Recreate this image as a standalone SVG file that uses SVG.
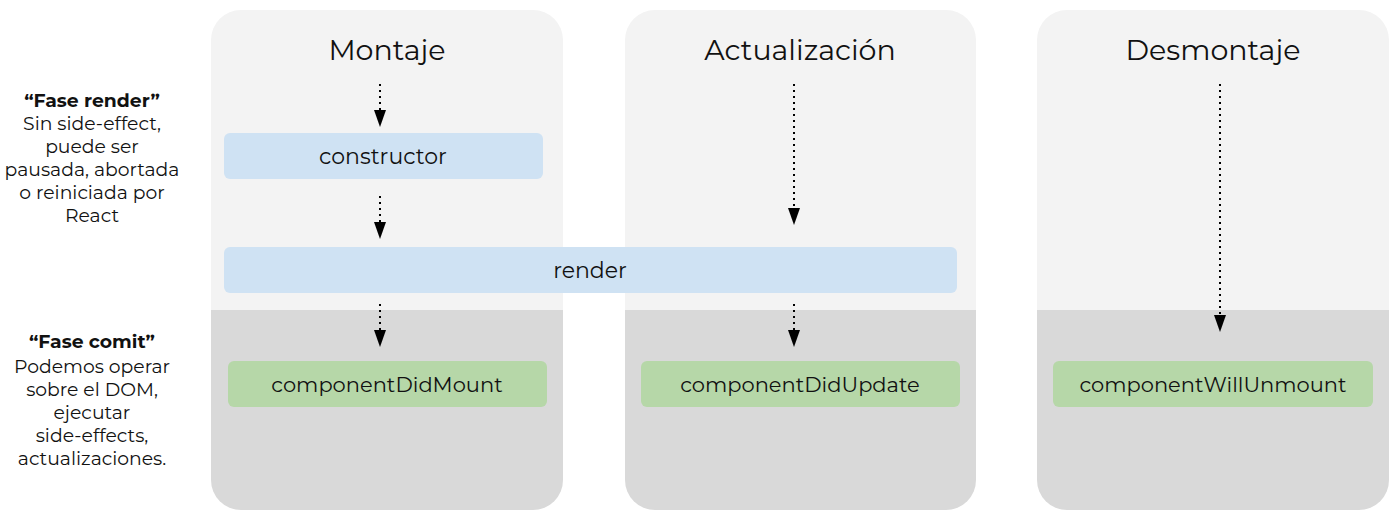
<svg xmlns="http://www.w3.org/2000/svg" width="1400" height="516" viewBox="0 0 1400 516">
<style>
text{font-family:"Montserrat","DejaVu Sans","Open Sans",sans-serif;fill:#111;text-anchor:middle}
.title{font-size:28.5px}
.lbl{font-size:21px}
.side{font-size:18.8px}
.side .b{font-weight:bold}
.light{fill:#f3f3f3}
.dark{fill:#d9d9d9}
.blue{fill:#cfe2f3}
.green{fill:#b6d7a8}
.conn line{stroke:#000;stroke-width:2;stroke-dasharray:2 4;fill:none}
.conn path{fill:#000}
</style>
<defs>
<clipPath id="c1"><rect x="211" y="10" width="352" height="500" rx="30"/></clipPath>
<clipPath id="c2"><rect x="625" y="10" width="351" height="500" rx="30"/></clipPath>
<clipPath id="c3"><rect x="1037" y="10" width="352" height="500" rx="30"/></clipPath>
</defs>
<g id="col-montaje">
<g clip-path="url(#c1)"><rect class="light" x="211" y="10" width="352" height="300"/><rect class="dark" x="211" y="310" width="352" height="200"/></g>
<text class="title" x="387" y="60">Montaje</text>
</g>
<g id="col-actualizacion">
<g clip-path="url(#c2)"><rect class="light" x="625" y="10" width="351" height="300"/><rect class="dark" x="625" y="310" width="351" height="200"/></g>
<text class="title" x="800" y="60">Actualización</text>
</g>
<g id="col-desmontaje">
<g clip-path="url(#c3)"><rect class="light" x="1037" y="10" width="352" height="300"/><rect class="dark" x="1037" y="310" width="352" height="200"/></g>
<text class="title" x="1213" y="60">Desmontaje</text>
</g>
<g id="fase-render" class="side">
<text class="b" x="92" y="107">“Fase render”</text>
<text x="92" y="130">Sin side-effect,</text>
<text x="92" y="153">puede ser</text>
<text x="92" y="176">pausada, abortada</text>
<text x="92" y="199">o reiniciada por</text>
<text x="92" y="222">React</text>
</g>
<g id="fase-commit" class="side">
<text class="b" x="92" y="348">“Fase comit”</text>
<text x="92" y="373">Podemos operar</text>
<text x="92" y="396">sobre el DOM,</text>
<text x="92" y="419">ejecutar</text>
<text x="92" y="442">side-effects,</text>
<text x="92" y="465">actualizaciones.</text>
</g>
<g id="constructor">
<rect class="blue" x="224" y="133" width="319" height="46" rx="6"/>
<text class="lbl" x="383" y="164" style="font-size:22px">constructor</text>
</g>
<g id="render">
<rect class="blue" x="224" y="247" width="733" height="46" rx="6"/>
<text class="lbl" x="590" y="278" style="font-size:22px">render</text>
</g>
<g id="componentDidMount">
<rect class="green" x="228" y="361" width="319" height="46" rx="6"/>
<text class="lbl" x="387" y="392">componentDidMount</text>
</g>
<g id="componentDidUpdate">
<rect class="green" x="641" y="361" width="319" height="46" rx="6"/>
<text class="lbl" x="800" y="392">componentDidUpdate</text>
</g>
<g id="componentWillUnmount">
<rect class="green" x="1053" y="361" width="320" height="46" rx="6"/>
<text class="lbl" x="1213" y="392">componentWillUnmount</text>
</g>
<g id="connectors" class="conn">
<line x1="380" y1="84" x2="380" y2="110"/><path d="M374 110 L386 110 L380 127 Z"/>
<line x1="380" y1="196" x2="380" y2="222"/><path d="M374 222 L386 222 L380 239 Z"/>
<line x1="380" y1="304" x2="380" y2="330"/><path d="M374 330 L386 330 L380 347 Z"/>
<line x1="794" y1="84" x2="794" y2="208"/><path d="M788 208 L800 208 L794 225 Z"/>
<line x1="794" y1="304" x2="794" y2="330"/><path d="M788 330 L800 330 L794 347 Z"/>
<line x1="1220" y1="84" x2="1220" y2="315"/><path d="M1214 315 L1226 315 L1220 332 Z"/>
</g>
</svg>
